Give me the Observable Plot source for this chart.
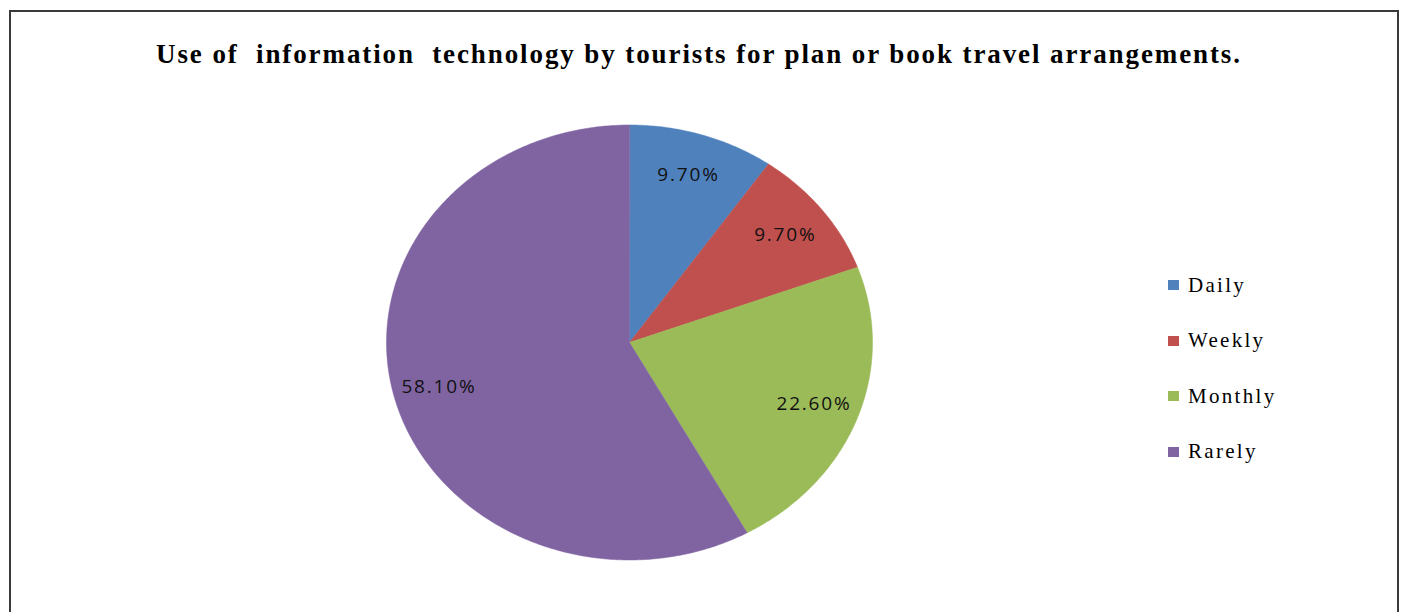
<!DOCTYPE html>
<html>
<head>
<meta charset="utf-8">
<script src="https://cdn.jsdelivr.net/npm/d3@7"></script>
<script src="https://cdn.jsdelivr.net/npm/@observablehq/plot@0.6"></script>
<style>
  html, body { margin: 0; padding: 0; background: #fff; }
  #wrap { position: relative; width: 1404px; height: 612px; overflow: hidden; background: #fff; }
  #frame { position: absolute; left: 9px; top: 10px; width: 1390px; height: 700px; border: 2px solid #3a3a3a; box-sizing: border-box; }
  #title { position: relative; height: 100px; box-sizing: border-box; padding-top: 39px; text-align: center;
           font-family: "Liberation Serif", "Times New Roman", serif; font-weight: bold; font-size: 27px;
           letter-spacing: 1.9px; word-spacing: 0px; color: #000; white-space: pre; padding-right: 6px; }
  #chart { position: absolute; left: 0; top: 100px; }
  #legend { position: absolute; left: 1168px; top: 270px; font-family: "Liberation Serif", "Times New Roman", serif;
            font-size: 21px; letter-spacing: 2.3px; color: #000; }
  .item { position: absolute; left: 0; height: 30px; display: flex; align-items: center; white-space: nowrap; }
  .sw { width: 11px; height: 10px; margin-right: 9px; }
</style>
</head>
<body>
<div id="wrap">
  <div id="frame"></div>
  <div id="title"></div>
  <div id="chart"></div>
  <div id="legend"></div>
</div>
<script>
const titleText = "Use of  information  technology by tourists for plan or book travel arrangements.";
const categories = ["Daily", "Weekly", "Monthly", "Rarely"];
const values = [9.7, 9.7, 22.6, 58.1];
const colors = ["#4F81BD", "#C0504D", "#9BBB59", "#8064A2"];

document.getElementById("title").textContent = titleText;

const W = 1404, H = 512;
const cx = 629, cy = 242, rx = 243, ry = 217.5;
const labelR = 0.81;

const arcs = d3.pie().sort(null).value(d => d.value)(categories.map((c, i) => ({category: c, value: values[i]})));

function slicePolygon(a) {
  const ring = [[0, 0]];
  const n = Math.max(8, Math.ceil((a.endAngle - a.startAngle) / 0.01));
  for (let k = 0; k <= n; k++) {
    const t = a.startAngle + (a.endAngle - a.startAngle) * k / n;
    ring.push([Math.sin(t), Math.cos(t)]);
  }
  ring.push([0, 0]);
  return {type: "Feature", properties: {category: a.data.category}, geometry: {type: "Polygon", coordinates: [ring]}};
}
const features = arcs.map(slicePolygon);
const labels = arcs.map(a => {
  const m = (a.startAngle + a.endAngle) / 2;
  return {x: labelR * Math.sin(m), y: labelR * Math.cos(m), text: d3.format(".2f")(a.data.value) + "%"};
});

const projection = () => d3.geoTransform({
  point(x, y) { this.stream.point(cx + rx * x, cy - ry * y); }
});

const chart = Plot.plot({
  width: W, height: H,
  margin: 0,
  projection,
  color: {domain: categories, range: colors},
  marks: [
    Plot.geo(features, {fill: d => d.properties.category, stroke: d => d.properties.category, strokeWidth: 0.5}),
    Plot.text(labels, {x: "x", y: "y", text: "text", fontFamily: "Open Sans, sans-serif", fontSize: 19,
      fill: "#111"})
  ]
});
chart.style.letterSpacing = "1.8px";
document.getElementById("chart").appendChild(chart);

const legend = document.getElementById("legend");
categories.forEach((c, i) => {
  const item = document.createElement("div");
  item.className = "item";
  item.style.top = (i * 55.5) + "px";
  const sw = document.createElement("div");
  sw.className = "sw";
  sw.style.background = colors[i];
  const tx = document.createElement("span");
  tx.textContent = c;
  item.appendChild(sw);
  item.appendChild(tx);
  legend.appendChild(item);
});
</script>
</body>
</html>
